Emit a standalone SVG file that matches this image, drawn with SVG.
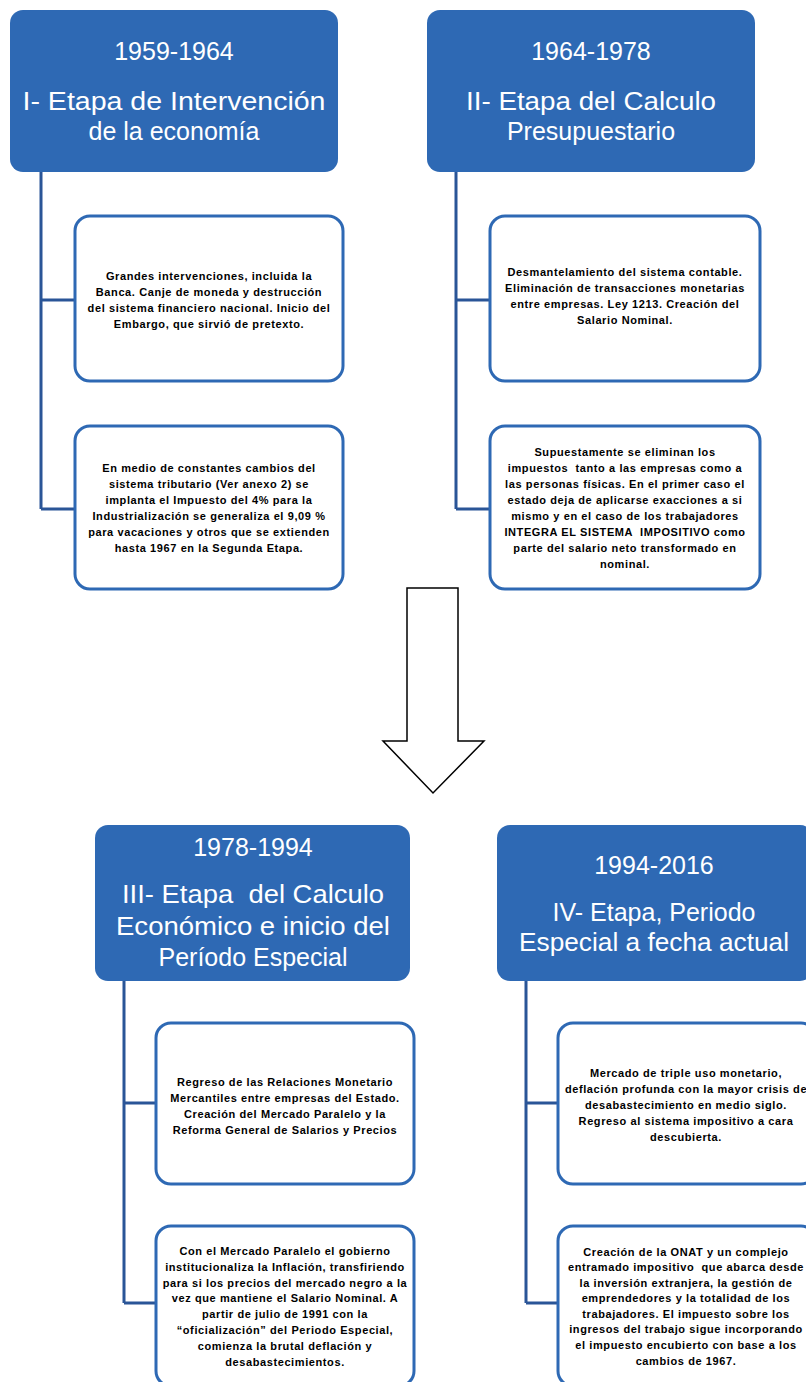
<svg xmlns="http://www.w3.org/2000/svg" width="806" height="1382" viewBox="0 0 806 1382">
<style>
.hdr{fill:#2E69B4;}
.ht{font-family:"Liberation Sans",Arial,sans-serif;font-size:25px;fill:#FFFFFF;text-anchor:middle;}
.sub{fill:#FFFFFF;stroke:#2E69B4;stroke-width:3;}
.st{font-family:"Liberation Sans",Arial,sans-serif;font-size:11px;font-weight:bold;letter-spacing:0.6px;fill:#000000;text-anchor:middle;}
.con{fill:none;stroke:#2A5597;stroke-width:3;}
</style>
<rect width="806" height="1382" fill="#FFFFFF"/>
<g id="connectors">
<path class="con" d="M41 172 V509 M41 300 H75 M41 509 H75"/>
<path class="con" d="M456 172 V509 M456 300 H490 M456 509 H490"/>
<path class="con" d="M124 981 V1303 M124 1103 H156 M124 1303 H156"/>
<path class="con" d="M526 981 V1303 M526 1103 H558 M526 1303 H558"/>
</g>
<g id="arrow">
<path d="M407 588 H458 V741 H484 L433 793 L383 741 H407 Z" fill="#FFFFFF" stroke="#000000" stroke-width="1.5"/>
</g>
<g id="stage1">
<rect class="hdr" x="10" y="10" width="328" height="162" rx="13"/>
<text class="ht" x="174" y="60">1959-1964</text>
<text class="ht" x="174" y="110" textLength="303" lengthAdjust="spacingAndGlyphs">I- Etapa de Intervención</text>
<text class="ht" x="174" y="140">de la economía</text>
</g>
<g id="stage2">
<rect class="hdr" x="427" y="10" width="328" height="162" rx="13"/>
<text class="ht" x="591" y="60">1964-1978</text>
<text class="ht" x="591" y="110" textLength="250" lengthAdjust="spacingAndGlyphs">II- Etapa del Calculo</text>
<text class="ht" x="591" y="140">Presupuestario</text>
</g>
<g id="box1a">
<rect class="sub" x="75" y="216" width="268" height="165" rx="15"/>
<text class="st" x="209" y="280">Grandes intervenciones, incluida la</text>
<text class="st" x="209" y="296">Banca. Canje de moneda y destrucción</text>
<text class="st" x="209" y="312">del sistema financiero nacional. Inicio del</text>
<text class="st" x="209" y="328">Embargo, que sirvió de pretexto.</text>
</g>
<g id="box1b">
<rect class="sub" x="75" y="426" width="268" height="163" rx="15"/>
<text class="st" x="209" y="472">En medio de constantes cambios del</text>
<text class="st" x="209" y="488">sistema tributario (Ver anexo 2) se</text>
<text class="st" x="209" y="504">implanta el Impuesto del 4% para la</text>
<text class="st" x="209" y="520">Industrialización se generaliza el 9,09 %</text>
<text class="st" x="209" y="536">para vacaciones y otros que se extienden</text>
<text class="st" x="209" y="552">hasta 1967 en la Segunda Etapa.</text>
</g>
<g id="box2a">
<rect class="sub" x="490" y="216" width="270" height="165" rx="15"/>
<text class="st" x="625" y="276">Desmantelamiento del sistema contable.</text>
<text class="st" x="625" y="292">Eliminación de transacciones monetarias</text>
<text class="st" x="625" y="308">entre empresas. Ley 1213. Creación del</text>
<text class="st" x="625" y="324">Salario Nominal.</text>
</g>
<g id="box2b">
<rect class="sub" x="490" y="426" width="270" height="163" rx="15"/>
<text class="st" x="625" y="456">Supuestamente se eliminan los</text>
<text class="st" x="625" y="472" xml:space="preserve">impuestos  tanto a las empresas como a</text>
<text class="st" x="625" y="488">las personas físicas. En el primer caso el</text>
<text class="st" x="625" y="504">estado deja de aplicarse exacciones a si</text>
<text class="st" x="625" y="520">mismo y en el caso de los trabajadores</text>
<text class="st" x="625" y="536" xml:space="preserve">INTEGRA EL SISTEMA  IMPOSITIVO como</text>
<text class="st" x="625" y="552">parte del salario neto transformado en</text>
<text class="st" x="625" y="568">nominal.</text>
</g>
<g id="stage3">
<rect class="hdr" x="95" y="825" width="315" height="156" rx="13"/>
<text class="ht" x="253" y="856">1978-1994</text>
<text class="ht" x="253" y="903" textLength="262" lengthAdjust="spacingAndGlyphs" xml:space="preserve">III- Etapa  del Calculo</text>
<text class="ht" x="253" y="935" textLength="274" lengthAdjust="spacingAndGlyphs">Económico e inicio del</text>
<text class="ht" x="253" y="966">Período Especial</text>
</g>
<g id="stage4">
<rect class="hdr" x="497" y="825" width="316" height="156" rx="13"/>
<text class="ht" x="654" y="874">1994-2016</text>
<text class="ht" x="654" y="921">IV- Etapa, Periodo</text>
<text class="ht" x="654" y="951" textLength="270" lengthAdjust="spacingAndGlyphs">Especial a fecha actual</text>
</g>
<g id="box3a">
<rect class="sub" x="156" y="1023" width="258" height="161" rx="15"/>
<text class="st" x="285" y="1086">Regreso de las Relaciones Monetario</text>
<text class="st" x="285" y="1102">Mercantiles entre empresas del Estado.</text>
<text class="st" x="285" y="1118">Creación del Mercado Paralelo y la</text>
<text class="st" x="285" y="1134">Reforma General de Salarios y Precios</text>
</g>
<g id="box3b">
<rect class="sub" x="156" y="1226" width="258" height="160" rx="15"/>
<text class="st" x="285" y="1255">Con el Mercado Paralelo el gobierno</text>
<text class="st" x="285" y="1271">institucionaliza la Inflación, transfiriendo</text>
<text class="st" x="285" y="1287">para si los precios del mercado negro a la</text>
<text class="st" x="285" y="1302">vez que mantiene el Salario Nominal. A</text>
<text class="st" x="285" y="1318">partir de julio de 1991 con la</text>
<text class="st" x="285" y="1334">“oficialización” del Periodo Especial,</text>
<text class="st" x="285" y="1350">comienza la brutal deflación y</text>
<text class="st" x="285" y="1366">desabastecimientos.</text>
</g>
<g id="box4a">
<rect class="sub" x="558" y="1023" width="258" height="161" rx="15"/>
<text class="st" x="686" y="1077">Mercado de triple uso monetario,</text>
<text class="st" x="686" y="1093">deflación profunda con la mayor crisis de</text>
<text class="st" x="686" y="1109">desabastecimiento en medio siglo.</text>
<text class="st" x="686" y="1125">Regreso al sistema impositivo a cara</text>
<text class="st" x="686" y="1141">descubierta.</text>
</g>
<g id="box4b">
<rect class="sub" x="558" y="1226" width="258" height="160" rx="15"/>
<text class="st" x="686" y="1256">Creación de la ONAT y un complejo</text>
<text class="st" x="686" y="1271" xml:space="preserve">entramado impositivo  que abarca desde</text>
<text class="st" x="686" y="1287">la inversión extranjera, la gestión de</text>
<text class="st" x="686" y="1302">emprendedores y la totalidad de los</text>
<text class="st" x="686" y="1318">trabajadores. El impuesto sobre los</text>
<text class="st" x="686" y="1333">ingresos del trabajo sigue incorporando</text>
<text class="st" x="686" y="1349">el impuesto encubierto con base a los</text>
<text class="st" x="686" y="1365">cambios de 1967.</text>
</g>
</svg>
